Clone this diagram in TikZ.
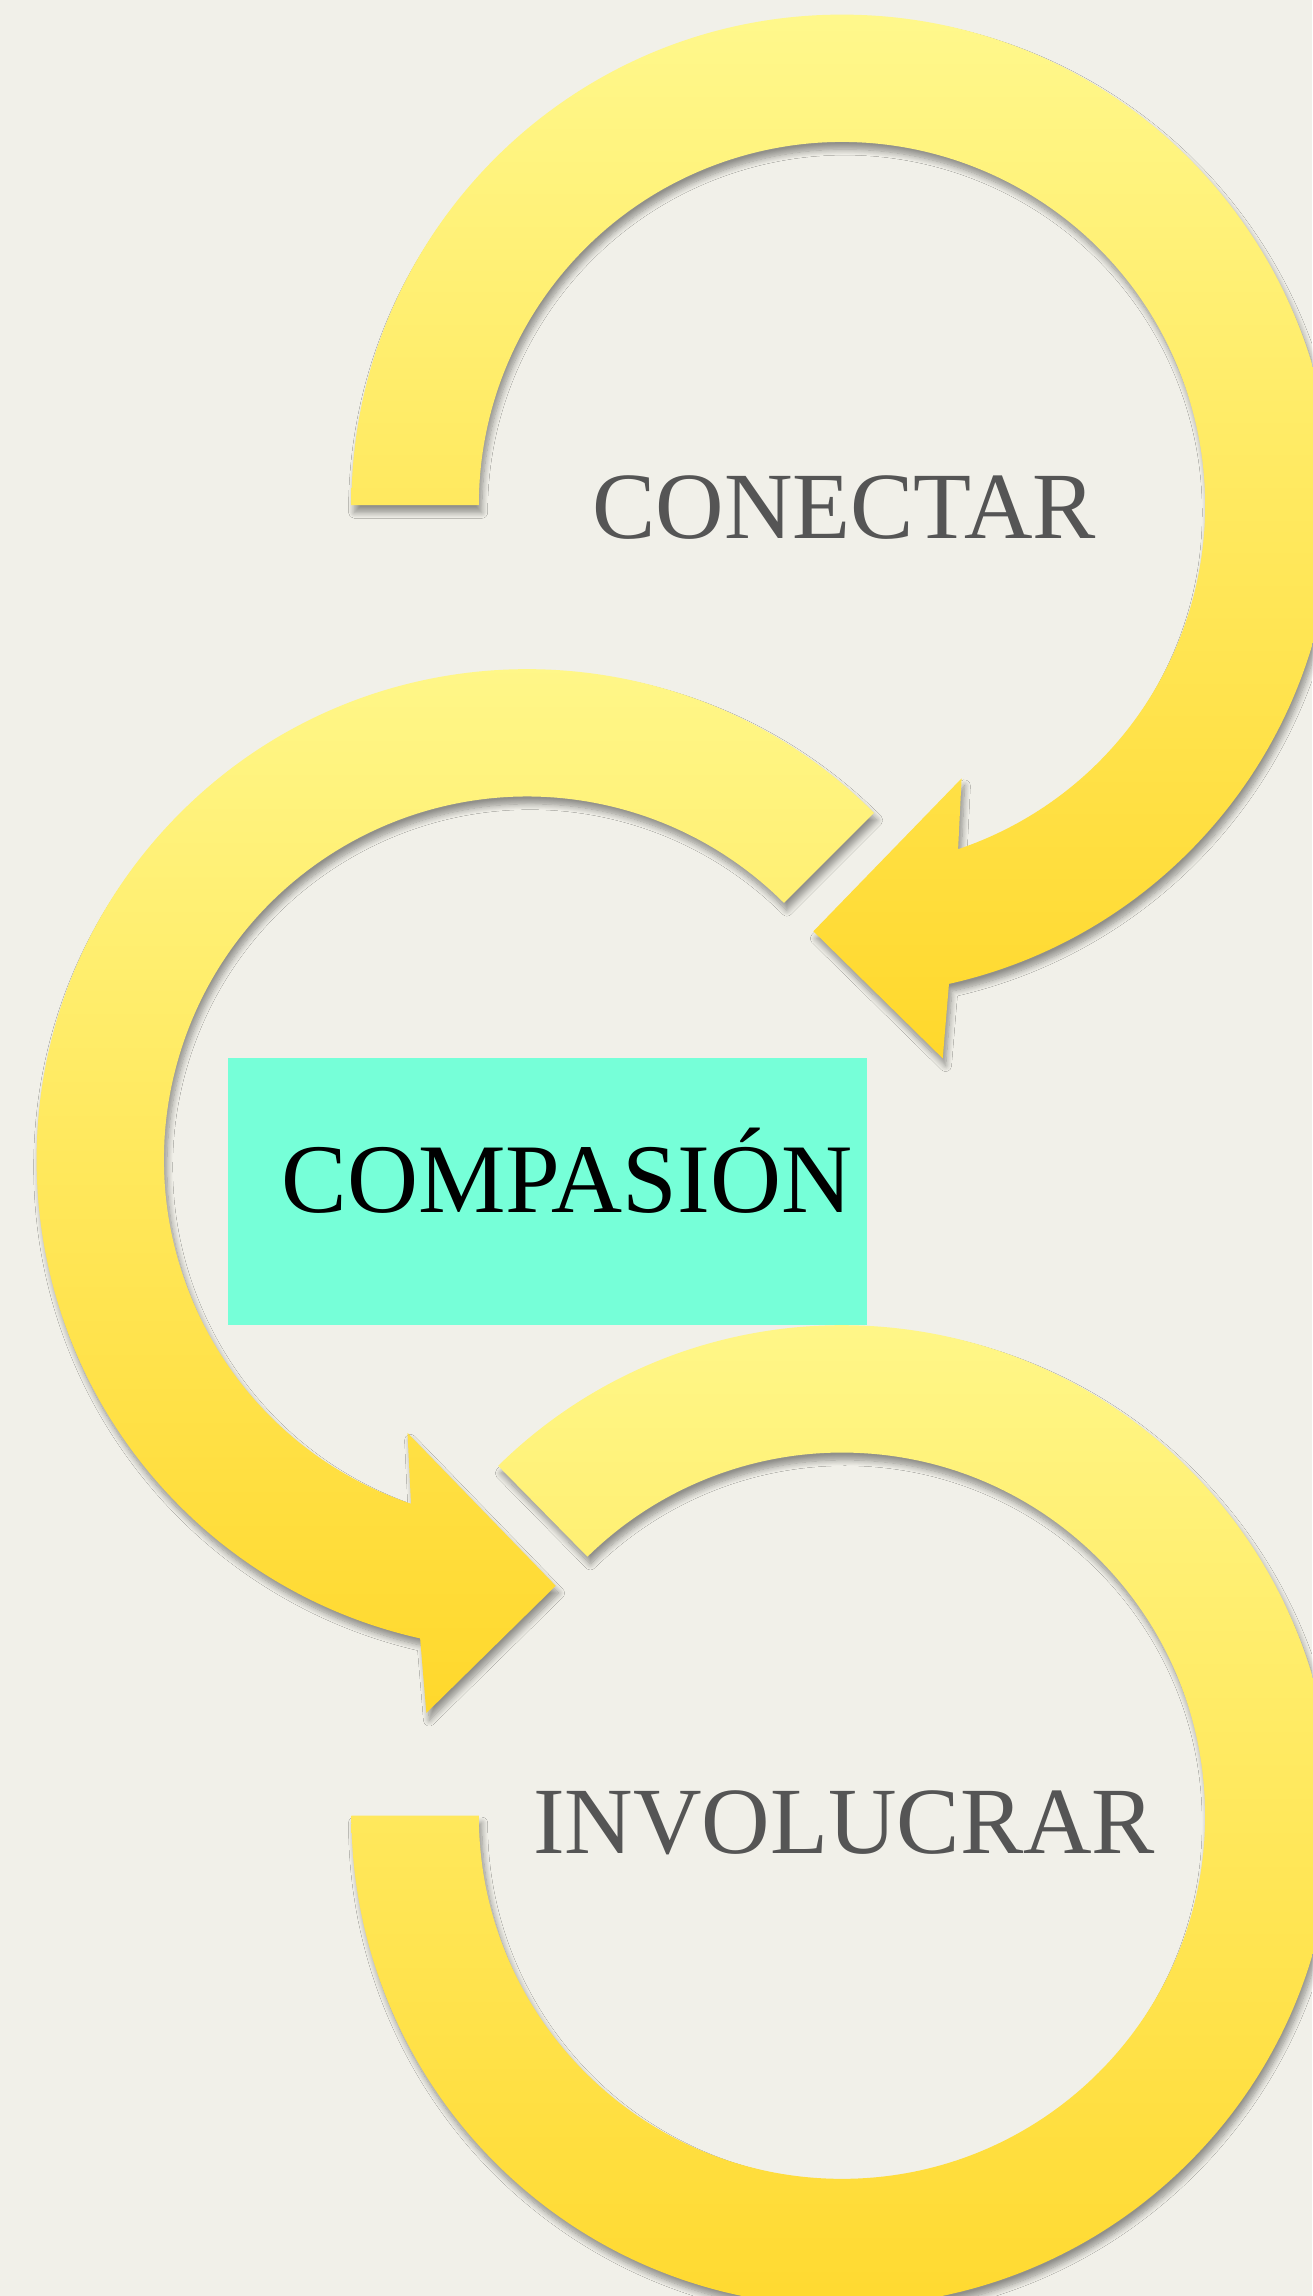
\documentclass[tikz,border=0pt]{standalone}
\usepackage{fontspec}
\setmainfont{Liberation Serif}
\usetikzlibrary{shadows.blur}
\definecolor{bg}{HTML}{F1F0E9}
\definecolor{ylight}{HTML}{FFF88C}
\definecolor{ydark}{HTML}{FFD82C}
\definecolor{mint}{HTML}{76FFD8}
\definecolor{txtgray}{HTML}{555555}
\begin{document}
\begin{tikzpicture}[x=0.5pt,y=0.5pt,
  ring/.style={top color=ylight, bottom color=ydark, draw=none,
    blur shadow={shadow xshift=1pt, shadow yshift=-2.5pt, shadow blur steps=10,
      shadow blur radius=2pt, shadow opacity=40}},
  wordlabel/.style={font=\fontsize{32.4pt}{36pt}\selectfont, text=txtgray, inner sep=0pt, anchor=base}]
\fill[bg] (0,0) rectangle (896,1568);
\useasboundingbox (0,0) rectangle (896,1568);
\coordinate (c1) at (575,1223);
\coordinate (c2) at (360,776);
\coordinate (c3) at (575,328);
% top arrow (clockwise)
\path[ring] ([shift={(c1)}]180:335) arc[start angle=180, end angle=-77.4, radius=335]
  -- ([shift={(c1)}]68.8,-377.8) -- ([shift={(c1)}]-19.5,-291) -- ([shift={(c1)}]81.7,-186.6)
  -- ([shift={(c1)}]-71.35:248) arc[start angle=-71.35, end angle=180, radius=248] -- cycle;
% middle arrow (counterclockwise)
\path[ring] ([shift={(c2)}]45:335) arc[start angle=45, end angle=257.4, radius=335]
  -- ([shift={(c2)}]-68.8,-377.8) -- ([shift={(c2)}]19.5,-291) -- ([shift={(c2)}]-81.7,-186.6)
  -- ([shift={(c2)}]251.35:248) arc[start angle=251.35, end angle=45, radius=248] -- cycle;
% bottom ring
\path[ring] ([shift={(c3)}]134.5:335) arc[start angle=134.5, end angle=-180, radius=335]
  -- ([shift={(c3)}]180:248) arc[start angle=-180, end angle=134.5, radius=248] -- cycle;
% texts
\node[wordlabel] (conectar) at (576.5,1200) {CONECTAR};
\node[wordlabel] (involucrar) at (576.5,302) {INVOLUCRAR};
\node[fill=mint, minimum width=218.5pt, minimum height=91pt, inner sep=0pt, anchor=south west] (box) at (155,663) {};
\node[font=\fontsize{33.6pt}{36pt}\selectfont, anchor=base west, inner sep=0pt] (compasion) at (192,740) {COMPASIÓN};
\end{tikzpicture}
\end{document}
